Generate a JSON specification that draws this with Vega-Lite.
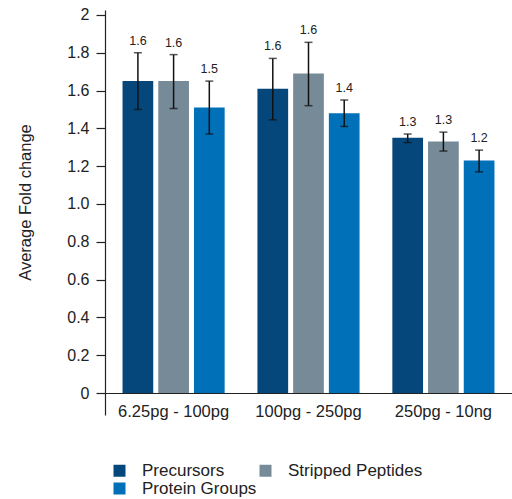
{
  "$schema": "https://vega.github.io/schema/vega-lite/v6.json",
  "autosize": {"type": "none"},
  "padding": {"left": 105, "top": 10, "right": 0, "bottom": 84},
  "width": 407,
  "height": 405,
  "background": "white",
  "config": {
    "font": "Liberation Sans",
    "view": {"stroke": null}
  },
  "data": {
    "values": [
      {"group": "6.25pg - 100pg", "series": "Precursors", "value": 1.65, "lo": 1.50, "hi": 1.80, "label": "1.6"},
      {"group": "6.25pg - 100pg", "series": "Stripped Peptides", "value": 1.65, "lo": 1.505, "hi": 1.79, "label": "1.6"},
      {"group": "6.25pg - 100pg", "series": "Protein Groups", "value": 1.51, "lo": 1.37, "hi": 1.65, "label": "1.5"},
      {"group": "100pg - 250pg", "series": "Precursors", "value": 1.61, "lo": 1.445, "hi": 1.77, "label": "1.6"},
      {"group": "100pg - 250pg", "series": "Stripped Peptides", "value": 1.69, "lo": 1.52, "hi": 1.855, "label": "1.6"},
      {"group": "100pg - 250pg", "series": "Protein Groups", "value": 1.48, "lo": 1.41, "hi": 1.55, "label": "1.4"},
      {"group": "250pg - 10ng", "series": "Precursors", "value": 1.35, "lo": 1.325, "hi": 1.37, "label": "1.3"},
      {"group": "250pg - 10ng", "series": "Stripped Peptides", "value": 1.33, "lo": 1.28, "hi": 1.38, "label": "1.3"},
      {"group": "250pg - 10ng", "series": "Protein Groups", "value": 1.23, "lo": 1.17, "hi": 1.285, "label": "1.2"}
    ]
  },
  "encoding": {
    "x": {
      "field": "group", "type": "nominal", "sort": null,
      "scale": {"paddingInner": 0.243, "paddingOuter": 0.13},
      "axis": {
        "title": null, "labelAngle": 0, "offset": -22, "ticks": false,
        "domainColor": "#222", "domainWidth": 1.2,
        "labelFontSize": 16.5, "labelColor": "#222", "labelPadding": 10
      }
    },
    "xOffset": {
      "field": "series", "type": "nominal", "sort": ["Precursors", "Stripped Peptides", "Protein Groups"],
      "scale": {"paddingInner": 0.14, "paddingOuter": 0}
    }
  },
  "layer": [
    {
      "mark": {"type": "bar"},
      "encoding": {
        "y": {
          "field": "value", "type": "quantitative",
          "scale": {"domain": [-0.116, 2.026], "nice": false, "zero": false},
          "axis": {
            "title": "Average Fold change", "titleFontSize": 16.5, "titleFontWeight": "normal", "titleColor": "#222",
            "titleX": -80, "titleY": 192, "titleBaseline": "middle", "titleAngle": -90, "titleAlign": "center",
            "values": [0, 0.2, 0.4, 0.6, 0.8, 1.0, 1.2, 1.4, 1.6, 1.8, 2],
            "labelExpr": "datum.value == 0 ? '0' : (datum.value == 2 ? '2' : format(datum.value, '.1f'))",
            "labelFontSize": 16, "labelColor": "#222", "labelPadding": 7,
            "tickSize": 9, "tickColor": "#222", "tickWidth": 1.2,
            "domainColor": "#222", "domainWidth": 1.2, "grid": false
          }
        },
        "color": {
          "field": "series", "type": "nominal",
          "scale": {"domain": ["Precursors", "Stripped Peptides", "Protein Groups"], "range": ["#05477A", "#768A97", "#0070B9"]},
          "legend": {
            "title": null, "orient": "none", "legendX": 6, "legendY": 452,
            "direction": "horizontal", "columns": 2, "columnPadding": -11, "rowPadding": 0,
            "symbolType": "square", "symbolSize": 144, "symbolStrokeWidth": 0, "symbolOpacity": 1,
            "labelFontSize": 17, "labelColor": "#222", "labelOffset": 14, "padding": 0
          }
        }
      }
    },
    {
      "mark": {"type": "rule", "color": "#111", "strokeWidth": 1.5},
      "encoding": {
        "y": {"field": "lo", "type": "quantitative"},
        "y2": {"field": "hi"}
      }
    },
    {
      "mark": {"type": "tick", "color": "#111", "thickness": 1.5, "size": 8, "orient": "horizontal"},
      "encoding": {"y": {"field": "lo", "type": "quantitative"}}
    },
    {
      "mark": {"type": "tick", "color": "#111", "thickness": 1.5, "size": 8, "orient": "horizontal"},
      "encoding": {"y": {"field": "hi", "type": "quantitative"}}
    },
    {
      "mark": {"type": "text", "baseline": "bottom", "dy": -5, "fontSize": 12.5, "color": "#222"},
      "encoding": {
        "y": {"field": "hi", "type": "quantitative"},
        "text": {"field": "label"}
      }
    }
  ]
}
